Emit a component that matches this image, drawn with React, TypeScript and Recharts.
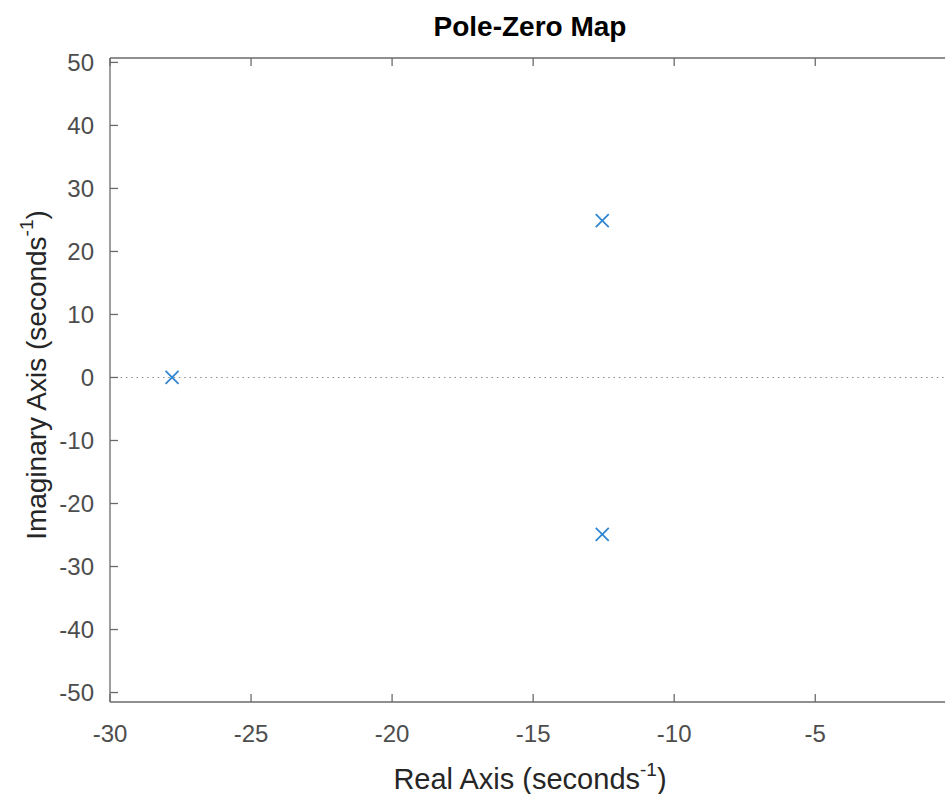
import React from "react";
import {
  ScatterChart,
  Scatter,
  XAxis,
  YAxis,
  ReferenceLine,
} from "recharts";

const poleReal = [-27.8, -12.55, -12.55];
const poleImag = [0, 24.9, -24.9];
const xTicks = [-30, -25, -20, -15, -10, -5];
const yTicks = [50, 40, 30, 20, 10, 0, -10, -20, -30, -40, -50];
const xDomain = [-30, -0.4];
const yDomain = [-51.5, 50.7];
const title = "Pole-Zero Map";
const xLabel = "Real Axis (seconds";
const yLabel = "Imaginary Axis (seconds";
const unitSup = "-1";

const poles = poleReal.map((re, i) => ({ re, im: poleImag[i] }));

const FONT = "'Liberation Sans', Arial, Helvetica, sans-serif";
const AXIS = "#6a6a6a";
const TICKTXT = "#4d4d4d";
const LABEL = "#262626";
const BLUE = "#2f86d2";

const PLOT_LEFT = 110;
const PLOT_TOP = 58;
const PLOT_BOTTOM = 702;

const XTickBottom = (props: any) => {
  const { x, payload } = props;
  return (
    <g>
      <line x1={x} y1={PLOT_BOTTOM} x2={x} y2={PLOT_BOTTOM - 8} stroke={AXIS} strokeWidth={1.3} />
      <text
        x={x}
        y={PLOT_BOTTOM + 40}
        textAnchor="middle"
        fill={TICKTXT}
        fontSize={24}
        fontFamily={FONT}
      >
        {payload.value}
      </text>
    </g>
  );
};

const XTickTop = (props: any) => {
  const { x } = props;
  return <line x1={x} y1={PLOT_TOP} x2={x} y2={PLOT_TOP + 8} stroke={AXIS} strokeWidth={1.3} />;
};

const YTick = (props: any) => {
  const { y, payload } = props;
  return (
    <g>
      <line x1={PLOT_LEFT} y1={y} x2={PLOT_LEFT + 8} y2={y} stroke={AXIS} strokeWidth={1.3} />
      <text
        x={PLOT_LEFT - 16}
        y={y + 8.5}
        textAnchor="end"
        fill={TICKTXT}
        fontSize={24}
        fontFamily={FONT}
      >
        {payload.value}
      </text>
    </g>
  );
};

const Cross = (props: any) => {
  const { cx, cy } = props;
  const r = 6.5;
  return (
    <g>
      <line x1={cx - r} y1={cy - r} x2={cx + r} y2={cy + r} stroke={BLUE} strokeWidth={1.8} />
      <line x1={cx - r} y1={cy + r} x2={cx + r} y2={cy - r} stroke={BLUE} strokeWidth={1.8} />
    </g>
  );
};

const XLabel = () => (
  <text x={530} y={789} textAnchor="middle" fill={LABEL} fontSize={29} fontFamily={FONT}>
    {xLabel}
    <tspan fontSize={19} dy={-13}>
      {unitSup}
    </tspan>
    <tspan dy={13}>)</tspan>
  </text>
);

const YLabel = () => (
  <text
    x={0}
    y={0}
    transform="translate(46,375) rotate(-90)"
    textAnchor="middle"
    fill={LABEL}
    fontSize={28}
    fontFamily={FONT}
  >
    {yLabel}
    <tspan fontSize={19} dy={-13}>
      {unitSup}
    </tspan>
    <tspan dy={13}>)</tspan>
  </text>
);

export default function App() {
  return (
    <div style={{ position: "absolute", left: 0, top: 0, width: 945, height: 794, background: "#fff" }}>
      <div
        style={{
          position: "absolute",
          left: 0,
          top: 0,
          width: 1060,
          textAlign: "center",
          fontFamily: FONT,
          fontWeight: "bold",
          fontSize: 28,
          lineHeight: "28px",
          paddingTop: 13,
          color: "#000",
        }}
      >
        {title}
      </div>
      <ScatterChart
        width={945}
        height={794}
        margin={{ top: PLOT_TOP - 1, right: 0, bottom: 0, left: 0 }}
      >
        <XAxis
          xAxisId="bottom"
          dataKey="re"
          type="number"
          domain={xDomain}
          ticks={xTicks}
          allowDataOverflow
          orientation="bottom"
          height={92}
          tickLine={false}
          axisLine={{ stroke: AXIS, strokeWidth: 1.3 }}
          tick={<XTickBottom />}
          interval={0}
          label={<XLabel />}
        />
        <XAxis
          xAxisId="top"
          dataKey="re"
          type="number"
          domain={xDomain}
          ticks={xTicks}
          allowDataOverflow
          orientation="top"
          height={1}
          tickLine={false}
          axisLine={{ stroke: AXIS, strokeWidth: 1.3 }}
          tick={<XTickTop />}
          interval={0}
        />
        <YAxis
          dataKey="im"
          type="number"
          domain={yDomain}
          ticks={yTicks}
          allowDataOverflow
          width={110}
          tickLine={false}
          axisLine={{ stroke: AXIS, strokeWidth: 1.3 }}
          tick={<YTick />}
          interval={0}
          label={<YLabel />}
        />
        <ReferenceLine
          xAxisId="bottom"
          y={0}
          stroke="#8c8c8c"
          strokeWidth={1.2}
          strokeDasharray="1.5 3.8"
        />
        <Scatter
          xAxisId="bottom"
          data={poles}
          shape={<Cross />}
          isAnimationActive={false}
        />
      </ScatterChart>
    </div>
  );
}
